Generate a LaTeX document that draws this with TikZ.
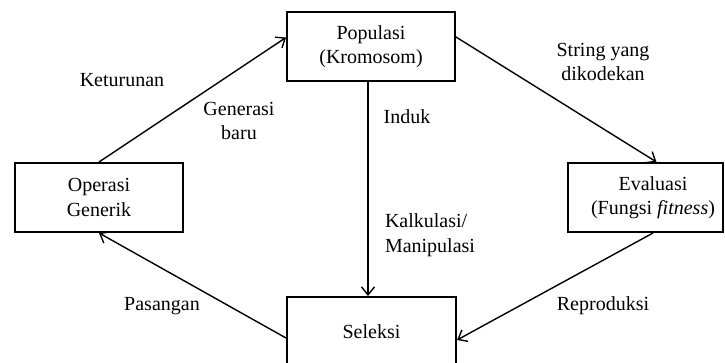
\documentclass[tikz,border=0pt]{standalone}
\usepackage{fontspec}
\setmainfont{Liberation Serif}
\usetikzlibrary{arrows.meta}
\begin{document}
\begin{tikzpicture}[x=1pt,y=-1pt,
  box/.style={draw, line width=2pt, inner sep=0pt, align=center,
    font=\fontsize{20}{24.5}\selectfont},
  lbl/.style={inner sep=0pt, align=center, font=\fontsize{20}{24.5}\selectfont},
  arr/.style={line width=1.4pt, -{Straight Barb[length=8pt,width=13pt,line width=1.4pt]}}]
\useasboundingbox (0,0) rectangle (725,362);
\node[box, minimum width=168pt, minimum height=69pt] (pop) at (371,46.5) {Populasi\\(Kromosom)};
\node[box, minimum width=168pt, minimum height=69pt] (op) at (99,197.5) {Operasi\\Generik};
\node[box, minimum width=155pt, minimum height=69pt] (eval) at (645.5,197.5) {};
\node[lbl] (evaltxt) at (653,197.5) {Evaluasi\\(Fungsi \textit{fitness})};
\node[box, minimum width=169pt, minimum height=69pt] (sel) at (371.5,331.5) {Seleksi};

\draw[arr] (op.north) -- ([yshift=9pt]pop.west);
\draw[arr] ([yshift=9.5pt]pop.east) -- ([xshift=11pt]eval.north);
\draw[arr] ([xshift=-3pt]pop.south) -- ([xshift=-3.5pt]sel.north);
\draw[arr] ([xshift=7.5pt]eval.south) -- ([yshift=-8.5pt]sel.east);
\draw[arr] ([yshift=-6.5pt]sel.west) -- (op.south);

\node[lbl] (ket) at (122,80) {Keturunan};
\node[lbl] (gen) at (239,121) {Generasi\\baru};
\node[lbl] (ind) at (407,117) {Induk};
\node[lbl, align=left] (kal) at (430,235) {Kalkulasi/\\Manipulasi};
\node[lbl] (str) at (603,62) {String yang\\dikodekan};
\node[lbl] (rep) at (603,306) {Reproduksi};
\node[lbl] (pas) at (162,306) {Pasangan};
\end{tikzpicture}
\end{document}
